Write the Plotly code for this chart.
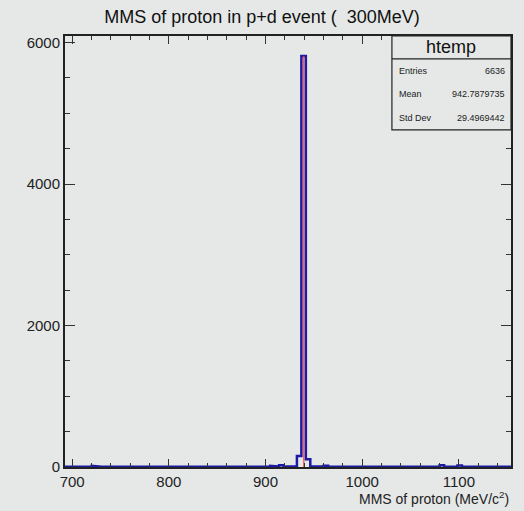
import plotly.graph_objects as go

# ---- data ----
x_min = 692.6
x_max = 1153.9
n_bins = 100
counts = [5, 4, 6, 5, 4, 5, 15, 5, 4, 5,
          6, 4, 5, 5, 4, 6, 5, 4, 5, 5,
          4, 5, 6, 4, 5, 5, 4, 6, 5, 4,
          5, 5, 4, 6, 12, 5, 14, 10, 5, 4,
          6, 5, 4, 5, 6, 5, 15, 6, 25, 6,
          5, 6, 156, 5810, 110, 6, 5, 10, 18, 6,
          5, 4, 6, 12, 5, 4, 5, 6, 4, 5,
          10, 5, 4, 6, 5, 4, 5, 10, 5, 4,
          6, 5, 4, 5, 25, 5, 4, 6, 20, 8,
          15, 15, 12, 5, 4, 6, 5, 4, 5, 5]
fit_mean = 939.6
fit_peak = 5810
y_max = 6092
title_text = "MMS of proton in p+d event (  300MeV)"
x_title = "MMS of proton (MeV/c<sup>2</sup>)"
stats_name = "htemp"
stats_labels = ["Entries", "Mean", "Std Dev"]
stats_values = ["6636", "942.7879735", "29.4969442"]

# ---- build step outline ----
bw = (x_max - x_min) / n_bins
edges = [x_min + i * bw for i in range(n_bins + 1)]
step_x = []
step_y = []
for i, c in enumerate(counts):
    step_x += [edges[i], edges[i + 1]]
    step_y += [c, c]

bg = "#e5e8e7"
font = "Liberation Sans, Arial, sans-serif"

fig = go.Figure()
fig.add_trace(go.Scatter(x=step_x, y=step_y, mode="lines",
                         line=dict(color="#1a1aa6", width=2.5),
                         hoverinfo="skip"))
fig.add_trace(go.Scatter(x=[fit_mean, fit_mean], y=[-20, fit_peak], mode="lines",
                         line=dict(color="#ff4040", width=1.2),
                         hoverinfo="skip"))

fig.update_layout(
    width=524, height=511,
    margin=dict(l=65, r=13, t=36, b=44),
    paper_bgcolor=bg, plot_bgcolor=bg,
    showlegend=False,
    font=dict(family=font, color="#222222", size=15),
    title=dict(text=title_text, x=0.5, xanchor="center", y=0.968, yanchor="middle",
               font=dict(size=18, family=font, color="#111111")),
)
fig.update_xaxes(range=[x_min, x_max], showgrid=False, zeroline=False,
                 showline=True, linecolor="#222222", linewidth=2, mirror="allticks",
                 ticks="inside", ticklen=8, tickwidth=1, tickcolor="#333333",
                 tickvals=[700, 800, 900, 1000, 1100],
                 minor=dict(dtick=20, tick0=700, ticks="inside", ticklen=4, tickcolor="#333333"),
                 tickfont=dict(size=15))
fig.update_yaxes(range=[0, y_max], showgrid=False, zeroline=False,
                 showline=True, linecolor="#222222", linewidth=2, mirror="allticks",
                 ticks="inside", ticklen=10, tickwidth=1, tickcolor="#333333",
                 tickvals=[0, 2000, 4000, 6000],
                 minor=dict(dtick=500, tick0=0, ticks="inside", ticklen=5, tickcolor="#333333"),
                 tickfont=dict(size=15))

# x axis title (right aligned)
fig.add_annotation(text=x_title, xref="paper", yref="paper", x=1.0, y=-0.071,
                   xanchor="right", yanchor="middle", showarrow=False,
                   font=dict(size=14, family=font, color="#222222"))

# stats box
bx0, bx1 = 0.733, 1.0
by0, by1, bdiv = 0.782, 1.0, 0.947
fig.add_shape(type="rect", xref="x domain", yref="y domain", x0=bx0, x1=bx1, y0=by0, y1=by1,
              line=dict(color="#222222", width=1.2), fillcolor=bg, layer="above")
fig.add_shape(type="line", xref="x domain", yref="y domain", x0=bx0, x1=bx1, y0=bdiv, y1=bdiv,
              line=dict(color="#222222", width=1.2))
fig.add_annotation(text=stats_name, xref="x domain", yref="y domain", x=(bx0 + bx1) / 2, y=0.974,
                   xanchor="center", yanchor="middle", showarrow=False,
                   font=dict(size=18, family=font, color="#111111"))
rows_y = [0.9195, 0.8654, 0.8097]
for lab, val, yy in zip(stats_labels, stats_values, rows_y):
    fig.add_annotation(text=lab, xref="x domain", yref="y domain", x=bx0 + 0.011, y=yy,
                       xanchor="left", yanchor="middle", showarrow=False,
                       font=dict(size=9, family=font, color="#222222"))
    fig.add_annotation(text=val, xref="x domain", yref="y domain", x=bx1 - 0.008, y=yy,
                       xanchor="right", yanchor="middle", showarrow=False,
                       font=dict(size=9, family=font, color="#222222"))

fig.write_html("out.html")
